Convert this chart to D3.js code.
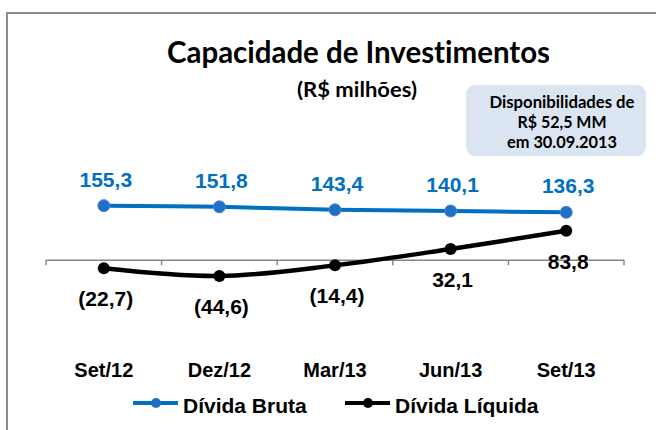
<!DOCTYPE html>
<html><head><meta charset="utf-8">
<script src="https://cdn.jsdelivr.net/npm/d3@7/dist/d3.min.js"></script>
<style>
html,body{margin:0;padding:0;background:#fff;}
svg{display:block;}
text{font-variant-ligatures:none;font-feature-settings:"liga" 0;}
</style></head>
<body>
<svg id="chart" width="664" height="430"></svg>
<script>
const categories = ["Set/12", "Dez/12", "Mar/13", "Jun/13", "Set/13"];
const dividaBruta = [155.3, 151.8, 143.4, 140.1, 136.3];
const dividaLiquida = [-22.7, -44.6, -14.4, 32.1, 83.8];
const seriesNames = ["Dívida Bruta", "Dívida Líquida"];
const titleText = "Capacidade de Investimentos";
const subtitleText = "(R$ milhões)";
const boxLines = ["Disponibilidades de", "R$ 52,5 MM", "em 30.09.2013"];

const svg = d3.select("#chart");
const blue = "#0070C0", black = "#000000", gray = "#868686";
const arial = "'Liberation Sans', Arial, sans-serif";
const calibri = "Lato, 'Open Sans', sans-serif";

const loc = d3.formatLocale({decimal: ",", thousands: ".", grouping: [3], currency: ["R$", ""]});
const f1 = loc.format(".1f");
const fmt = v => v < 0 ? "(" + f1(-v) + ")" : f1(v);

// border (top + left)
svg.append("path")
  .attr("d", "M7,430 L7,13 L656,13")
  .attr("fill", "none").attr("stroke", "#8c8c8c").attr("stroke-width", 2);

// title
svg.append("text").attr("x", 358.5).attr("y", 63).attr("text-anchor", "middle")
  .attr("font-family", calibri).attr("font-weight", "bold").attr("font-size", 31)
  .attr("textLength", 383).attr("lengthAdjust", "spacingAndGlyphs")
  .text(titleText);
svg.append("text").attr("x", 357).attr("y", 97).attr("text-anchor", "middle")
  .attr("font-family", calibri).attr("font-weight", "bold").attr("font-size", 20)
  .attr("textLength", 120).attr("lengthAdjust", "spacingAndGlyphs")
  .text(subtitleText);

// info box
svg.append("rect").attr("x", 466).attr("y", 85).attr("width", 180).attr("height", 71)
  .attr("rx", 9).attr("fill", "#dbe5f1");
const boxLens = [145, 89, 110];
boxLines.forEach((t, i) => {
  svg.append("text").attr("x", 562).attr("y", 108 + i * 20).attr("text-anchor", "middle")
    .attr("font-family", calibri).attr("font-weight", "bold").attr("font-size", 17)
    .attr("textLength", boxLens[i]).attr("lengthAdjust", "spacingAndGlyphs")
    .text(t);
});

// scales
const x = d3.scaleBand().domain(categories).range([46, 624]).padding(0);
const cx = c => x(c) + x.bandwidth() / 2;
const y = d3.scaleLinear().domain([-100, 200]).range([295.5, 189.9]);

// category axis at zero
const axisG = svg.append("g");
axisG.append("line").attr("x1", x.range()[0]).attr("x2", x.range()[1])
  .attr("y1", y(0)).attr("y2", y(0)).attr("stroke", gray).attr("stroke-width", 1.5);
const tickXs = categories.map(c => x(c)).concat([x.range()[1]]);
axisG.selectAll(".tk").data(tickXs).enter().append("line")
  .attr("x1", d => d).attr("x2", d => d)
  .attr("y1", y(0)).attr("y2", y(0) + 5).attr("stroke", gray).attr("stroke-width", 1.5);

// category labels
svg.selectAll(".cat").data(categories).enter().append("text")
  .attr("x", d => cx(d)).attr("y", 377).attr("text-anchor", "middle")
  .attr("font-family", arial).attr("font-weight", "bold").attr("font-size", 20)
  .attr("fill", "#000").text(d => d);

const line = d3.line().x(d => cx(d.c)).y(d => y(d.v)).curve(d3.curveCatmullRom.alpha(0.5));
const dataB = categories.map((c, i) => ({c, v: dividaBruta[i]}));
const dataL = categories.map((c, i) => ({c, v: dividaLiquida[i]}));

// Dívida Bruta
svg.append("path").datum(dataB).attr("d", line).attr("fill", "none")
  .attr("stroke", blue).attr("stroke-width", 4);
svg.selectAll(".mb").data(dataB).enter().append("circle")
  .attr("cx", d => cx(d.c)).attr("cy", d => y(d.v)).attr("r", 6)
  .attr("fill", "#1f6fc6").attr("stroke", "#4a86cf").attr("stroke-width", 1);
svg.selectAll(".lb").data(dataB).enter().append("text")
  .attr("x", d => cx(d.c) + 2).attr("y", d => y(d.v) - 19).attr("text-anchor", "middle")
  .attr("font-family", arial).attr("font-weight", "bold").attr("font-size", 21)
  .attr("fill", blue).text(d => fmt(d.v));

// Dívida Líquida
svg.append("path").datum(dataL).attr("d", line).attr("fill", "none")
  .attr("stroke", black).attr("stroke-width", 4.5);
svg.selectAll(".ml").data(dataL).enter().append("circle")
  .attr("cx", d => cx(d.c)).attr("cy", d => y(d.v)).attr("r", 6).attr("fill", black);
svg.selectAll(".ll").data(dataL).enter().append("text")
  .attr("x", d => cx(d.c) + 2).attr("y", d => y(d.v) + 38).attr("text-anchor", "middle")
  .attr("font-family", arial).attr("font-weight", "bold").attr("font-size", 21)
  .attr("fill", black).text(d => fmt(d.v));

// legend
const legend = [
  {name: seriesNames[0], color: blue, mfill: "#1f6fc6", x0: 133},
  {name: seriesNames[1], color: black, mfill: black, x0: 345}
];
legend.forEach(l => {
  const g = svg.append("g");
  g.append("line").attr("x1", l.x0).attr("x2", l.x0 + 45).attr("y1", 403).attr("y2", 403)
    .attr("stroke", l.color).attr("stroke-width", 4);
  g.append("circle").attr("cx", l.x0 + 23).attr("cy", 403).attr("r", 5).attr("fill", l.mfill);
  g.append("text").attr("x", l.x0 + 50).attr("y", 413)
    .attr("font-family", arial).attr("font-weight", "bold").attr("font-size", 21)
    .attr("fill", "#000").text(l.name);
});
</script>
</body></html>
